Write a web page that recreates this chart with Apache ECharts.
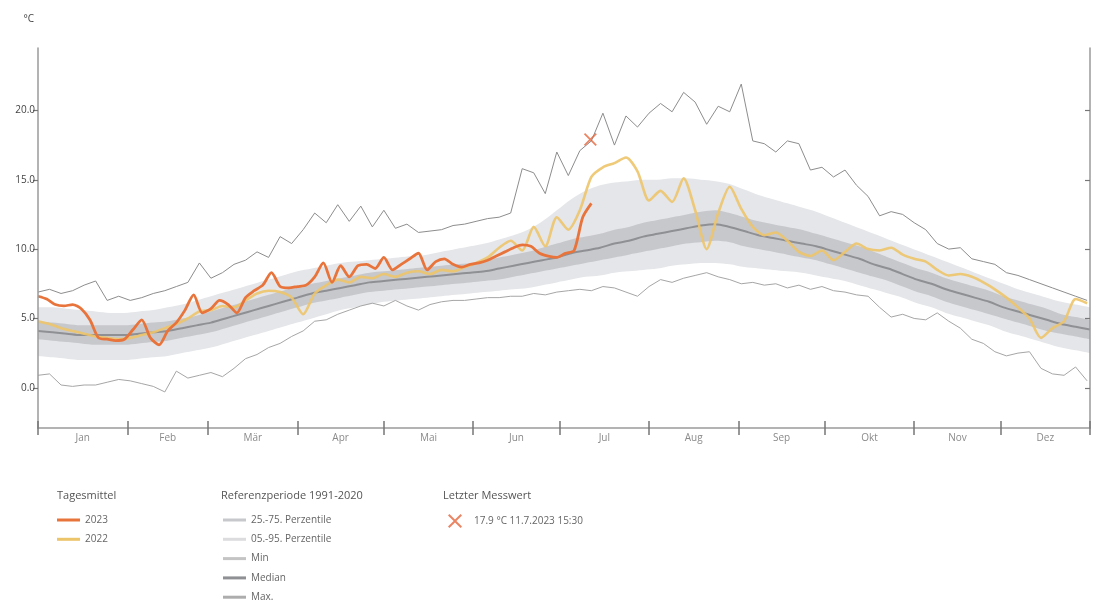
<!DOCTYPE html>
<html>
<head>
<meta charset="utf-8">
<script src="https://cdn.jsdelivr.net/npm/echarts@6/dist/echarts.min.js"></script>
<style>
  html, body { margin: 0; padding: 0; background: #ffffff; }
  #chart { width: 1093px; height: 603px; }
</style>
</head>
<body>
<div id="chart"></div>
<script>
// Month axis (day of year, 0 = 1 January)
const monthNames = ['Jan', 'Feb', 'Mär', 'Apr', 'Mai', 'Jun', 'Jul', 'Aug', 'Sep', 'Okt', 'Nov', 'Dez'];
const monthStarts = [0, 31, 59, 90, 120, 151, 181, 212, 243, 273, 304, 334, 365];
const yTicks = [0, 5, 10, 15, 20];

// Reference period 1991-2020, sampled every 5 days (day 0 ... 365)
const refP5 = [
  2.3, 2.2, 2.1, 2.0, 2.0, 2.0, 2.0, 2.1, 2.2, 2.3,
  2.5, 2.7, 2.9, 3.2, 3.5, 3.8, 4.1, 4.4, 4.7, 5.0,
  5.3, 5.6, 5.8, 6.0, 6.2, 6.3, 6.4, 6.5, 6.6, 6.7,
  6.8, 6.9, 7.0, 7.1, 7.2, 7.4, 7.6, 7.8, 8.0, 8.1,
  8.3, 8.4, 8.5, 8.6, 8.8, 8.9, 9.0, 9.0, 8.9, 8.7,
  8.6, 8.5, 8.4, 8.3, 8.1, 7.9, 7.7, 7.4, 7.1, 6.8,
  6.5, 6.1, 5.8, 5.4, 5.1, 4.8, 4.5, 4.1, 3.8, 3.5,
  3.2, 2.9, 2.7, 2.5
];
const refP25 = [
  3.5, 3.4, 3.3, 3.2, 3.1, 3.1, 3.1, 3.2, 3.3, 3.4,
  3.6, 3.8, 4.0, 4.3, 4.6, 4.9, 5.2, 5.5, 5.8, 6.1,
  6.3, 6.5, 6.7, 6.9, 7.0, 7.1, 7.2, 7.3, 7.4, 7.5,
  7.6, 7.7, 7.8, 8.0, 8.2, 8.4, 8.6, 8.8, 9.0, 9.2,
  9.4, 9.6, 9.8, 10.0, 10.2, 10.4, 10.5, 10.6, 10.5, 10.2,
  10.0, 9.8, 9.6, 9.4, 9.2, 8.9, 8.6, 8.3, 8.0, 7.7,
  7.3, 6.9, 6.6, 6.2, 5.9, 5.6, 5.3, 5.0, 4.7, 4.4,
  4.1, 3.9, 3.7, 3.5
];
const refMedian = [
  4.1, 4.0, 3.9, 3.8, 3.8, 3.8, 3.8, 3.9, 4.0, 4.1,
  4.3, 4.5, 4.7, 5.0, 5.3, 5.6, 5.9, 6.2, 6.5, 6.8,
  7.0, 7.2, 7.4, 7.6, 7.7, 7.8, 7.9, 8.0, 8.1, 8.2,
  8.3, 8.4, 8.6, 8.8, 9.0, 9.2, 9.4, 9.7, 9.9, 10.1,
  10.4, 10.6, 10.9, 11.1, 11.3, 11.5, 11.7, 11.8, 11.6, 11.3,
  11.0, 10.8, 10.6, 10.4, 10.2, 9.9, 9.6, 9.3, 8.9, 8.6,
  8.2, 7.8, 7.5, 7.1, 6.8, 6.5, 6.2, 5.8, 5.5, 5.2,
  4.9, 4.6, 4.4, 4.2
];
const refP75 = [
  4.8, 4.7, 4.6, 4.5, 4.5, 4.5, 4.5, 4.6, 4.7, 4.8,
  5.0, 5.2, 5.5, 5.8, 6.1, 6.4, 6.7, 7.0, 7.3, 7.5,
  7.7, 7.9, 8.1, 8.3, 8.4, 8.5, 8.6, 8.7, 8.8, 8.9,
  9.0, 9.2, 9.4, 9.6, 9.8, 10.1, 10.4, 10.7, 10.9, 11.1,
  11.4, 11.6, 11.9, 12.1, 12.3, 12.5, 12.7, 12.8, 12.6, 12.3,
  12.0, 11.8, 11.6, 11.4, 11.1, 10.8, 10.5, 10.2, 9.8, 9.4,
  9.0, 8.6, 8.3, 7.9, 7.6, 7.3, 7.0, 6.6, 6.3, 6.0,
  5.7, 5.3, 5.1, 4.9
];
const refP95 = [
  5.8, 5.8, 5.7, 5.6, 5.5, 5.4, 5.4, 5.5, 5.6, 5.8,
  6.0, 6.3, 6.6, 6.9, 7.2, 7.5, 7.8, 8.1, 8.4, 8.6,
  8.8, 9.0, 9.1, 9.2, 9.3, 9.4, 9.5, 9.6, 9.8, 10.0,
  10.2, 10.4, 10.7, 11.0, 11.4, 12.0, 12.8, 13.6, 14.2, 14.6,
  14.8, 14.9, 15.0, 15.0, 15.1, 15.1, 15.0, 14.9, 14.7, 14.3,
  13.9, 13.6, 13.3, 13.0, 12.7, 12.3, 11.9, 11.5, 11.1, 10.7,
  10.3, 9.9, 9.5, 9.1, 8.7, 8.3, 7.9, 7.5, 7.1, 6.8,
  6.5, 6.2, 6.0, 5.8
];

// Daily extremes of the reference period and year 2022, every 4 days (day 0 ... 364)
const refMax = [
  6.9, 7.1, 6.8, 7.0, 7.4, 7.7, 6.3, 6.6, 6.3, 6.5,
  6.8, 7.0, 7.3, 7.6, 9.0, 7.9, 8.3, 8.9, 9.2, 9.8,
  9.4, 10.9, 10.4, 11.4, 12.6, 11.9, 13.2, 12.0, 13.1, 11.6,
  12.8, 11.5, 11.8, 11.2, 11.3, 11.4, 11.7, 11.8, 12.0, 12.2,
  12.3, 12.6, 15.8, 15.5, 14.0, 17.0, 15.3, 17.1, 17.8, 19.8,
  17.5, 19.6, 18.8, 19.8, 20.5, 19.9, 21.3, 20.6, 19.0, 20.3,
  19.9, 21.9, 17.8, 17.6, 17.0, 17.8, 17.6, 15.7, 15.9, 15.2,
  15.7, 14.6, 13.8, 12.4, 12.7, 12.5, 11.9, 11.4, 10.4, 10.0,
  10.1, 9.3, 9.1, 8.9, 8.3, 8.1, 7.8, 7.5, 7.2, 6.9,
  6.6, 6.3
];
const refMin = [
  0.9, 1.0, 0.2, 0.1, 0.2, 0.2, 0.4, 0.6, 0.5, 0.3,
  0.1, -0.3, 1.2, 0.7, 0.9, 1.1, 0.8, 1.4, 2.1, 2.4,
  2.9, 3.2, 3.7, 4.1, 4.8, 4.9, 5.3, 5.6, 5.9, 6.1,
  5.9, 6.3, 5.9, 5.6, 6.0, 6.2, 6.3, 6.3, 6.4, 6.5,
  6.5, 6.6, 6.6, 6.8, 6.7, 6.9, 7.0, 7.1, 7.0, 7.3,
  7.2, 6.9, 6.6, 7.3, 7.8, 7.6, 7.9, 8.1, 8.3, 8.0,
  7.8, 7.5, 7.6, 7.4, 7.5, 7.2, 7.4, 7.1, 7.3, 7.0,
  6.9, 6.7, 6.6, 5.8, 5.1, 5.3, 5.0, 4.9, 5.4, 4.8,
  4.3, 3.5, 3.2, 2.6, 2.3, 2.5, 2.6, 1.4, 1.0, 0.9,
  1.5, 0.5
];
const mean2022 = [
  4.8, 4.6, 4.3, 4.1, 3.9, 3.7, 3.6, 3.5, 3.6, 3.8,
  4.0, 4.3, 4.6, 5.0, 5.5, 5.6, 5.9, 5.8, 6.3, 6.8,
  7.0, 6.9, 6.5, 5.3, 6.8, 7.4, 7.8, 7.6, 8.0, 7.9,
  8.2, 8.0, 8.3, 8.4, 8.2, 8.5, 8.4, 8.7, 9.0, 9.4,
  10.1, 10.6, 9.9, 11.6, 10.2, 12.3, 11.4, 12.8, 15.2, 15.9,
  16.2, 16.6, 15.6, 13.5, 14.2, 13.4, 15.1, 12.8, 10.0, 12.6,
  14.5, 12.9, 11.6, 11.0, 11.2, 10.6, 9.8, 9.5, 9.9, 9.2,
  9.8, 10.4, 10.0, 9.9, 10.1, 9.6, 9.3, 9.1, 8.5, 8.1,
  8.2, 8.0, 7.6, 7.1, 6.5, 5.8, 5.0, 3.6, 4.3, 4.8,
  6.4, 6.1
];

// Year 2023, every 3 days (day 0 ... 192)
const mean2023 = [
  6.6, 6.4, 6.0, 5.9, 6.0, 5.7, 4.9, 3.6, 3.5, 3.4,
  3.5, 4.2, 4.9, 3.6, 3.1, 4.1, 4.7, 5.6, 6.7, 5.4,
  5.7, 6.3, 6.0, 5.4, 6.5, 7.0, 7.4, 8.3, 7.3, 7.2,
  7.3, 7.4, 8.0, 9.0, 7.6, 8.8, 8.0, 8.8, 8.9, 8.6,
  9.4, 8.5, 8.9, 9.3, 9.7, 8.5, 9.1, 9.3, 8.9, 8.7,
  8.9, 9.0, 9.2, 9.5, 9.8, 10.1, 10.3, 10.2, 9.7, 9.5,
  9.4, 9.7, 9.9, 12.3, 13.3
];

// Last measured value: 11.7.2023 15:30
const lastValue = 17.9;
const lastDay = 191 + 15.5 / 24;
const lastLabel = lastValue.toFixed(1) + ' °C 11.7.2023 15:30';

function sampleDays(start, step, count) {
  const d = [];
  for (let i = 0; i < count; i++) d.push(start + i * step);
  return d;
}
const bandDays = sampleDays(0, 5, refMedian.length);
const lineDays = sampleDays(0, 4, refMax.length);
const days2023 = sampleDays(0, 3, mean2023.length);
const pairs = (days, vals) => vals.map((v, i) => [days[i], v]);

const monthMids = monthNames.map((_, i) => (monthStarts[i] + monthStarts[i + 1]) / 2);
function monthOf(v) {
  for (let i = 0; i < 12; i++) if (v >= monthStarts[i] && v < monthStarts[i + 1]) return monthNames[i];
  return '';
}

const FONT = 'Open Sans, Noto Sans, sans-serif';
const C = {
  outer: '#e5e6e9',
  inner: '#c7c8cc',
  median: '#8f9094',
  max: '#8d8d8d',
  min: '#a6a6a6',
  y2023: '#e8743b',
  y2022: '#ecc46a',
  mark: '#e5673d',
  axis: '#9a9a9a'
};
const xPath = 'path://M2,0 L10,8 L18,0 L20,2 L12,10 L20,18 L18,20 L10,12 L2,20 L0,18 L8,10 L0,2 Z';

// Percentile bands: each boundary is filled down to the axis, painted from the
// outermost (95 %) to the innermost (5 %, white) so the layers leave the bands.
function bandLayer(name, values, fill, legendColor, z) {
  return {
    name: name, type: 'line', data: pairs(bandDays, values),
    symbol: 'none', smooth: 0.3, silent: true, z: z,
    lineStyle: { width: 0, color: legendColor },
    itemStyle: { color: legendColor },
    areaStyle: { color: fill, opacity: 1, origin: 'start' }
  };
}

const legendText = { color: '#666', fontSize: 10, fontFamily: FONT };

const chart = echarts.init(document.getElementById('chart'), null, { renderer: 'canvas' });
chart.setOption({
  animation: false,
  backgroundColor: '#ffffff',
  textStyle: { fontFamily: FONT },
  grid: { left: 38, right: 3, top: 48, bottom: 175 },
  xAxis: [
    {
      type: 'value', min: 0, max: 365, position: 'bottom', z: 10,
      axisLine: { show: true, onZero: false, lineStyle: { color: C.axis, width: 1.5 } },
      axisTick: { show: true, customValues: monthStarts, length: 7, lineStyle: { color: '#777', width: 1.5 } },
      axisLabel: { customValues: monthMids, formatter: v => monthOf(v), color: '#8a8a8a', fontSize: 10, margin: 5, fontFamily: FONT },
      splitLine: { show: false }
    },
    {
      type: 'value', min: 0, max: 365, position: 'bottom', z: 10,
      axisLine: { show: false, onZero: false },
      axisTick: { show: true, inside: true, customValues: monthStarts, length: 7, lineStyle: { color: '#777', width: 1.5 } },
      axisLabel: { show: false },
      splitLine: { show: false }
    }
  ],
  yAxis: [
    {
      type: 'value', min: -2.9, max: 24.5, position: 'left', z: 10,
      name: '°C', nameLocation: 'end', nameGap: 24,
      nameTextStyle: { color: '#444', fontSize: 10, align: 'right', padding: [0, 4, 0, 0], fontFamily: FONT },
      axisLine: { show: true, onZero: false, lineStyle: { color: C.axis, width: 1.5 } },
      axisTick: { show: true, customValues: yTicks, length: 5, lineStyle: { color: '#777', width: 1.2 } },
      axisLabel: { customValues: yTicks, formatter: v => v.toFixed(1), color: '#444', fontSize: 10, margin: 3, fontFamily: FONT },
      splitLine: { show: false }
    },
    {
      type: 'value', min: -2.9, max: 24.5, position: 'right', z: 10,
      axisLine: { show: true, onZero: false, lineStyle: { color: C.axis, width: 1.5 } },
      axisTick: { show: true, inside: true, customValues: yTicks, length: 5, lineStyle: { color: '#777', width: 1.2 } },
      axisLabel: { show: false },
      splitLine: { show: false }
    }
  ],
  legend: [
    {
      left: 57, top: 515, padding: 0, orient: 'vertical', itemWidth: 23, itemHeight: 3, itemGap: 9.3,
      selectedMode: false, textStyle: legendText,
      data: [{ name: '2023', icon: 'rect' }, { name: '2022', icon: 'rect' }]
    },
    {
      left: 223, top: 515, padding: 0, orient: 'vertical', itemWidth: 23, itemHeight: 3, itemGap: 9.3,
      selectedMode: false, textStyle: legendText,
      data: [
        { name: '25.-75. Perzentile', icon: 'rect' },
        { name: '05.-95. Perzentile', icon: 'rect' },
        { name: 'Min', icon: 'rect' },
        { name: 'Median', icon: 'rect' },
        { name: 'Max.', icon: 'rect' }
      ]
    },
    {
      left: 448, top: 514, padding: 0, orient: 'vertical', itemWidth: 14, itemHeight: 14, itemGap: 5,
      selectedMode: false, textStyle: Object.assign({ padding: [0, 0, 0, 7] }, legendText),
      data: [{ name: lastLabel, icon: xPath }]
    }
  ],
  graphic: [
    { type: 'text', left: 57, top: 490, style: { text: 'Tagesmittel', fill: '#555', fontSize: 11, fontFamily: FONT } },
    { type: 'text', left: 221, top: 490, style: { text: 'Referenzperiode 1991-2020', fill: '#555', fontSize: 11, fontFamily: FONT } },
    { type: 'text', left: 443, top: 490, style: { text: 'Letzter Messwert', fill: '#555', fontSize: 11, fontFamily: FONT } }
  ],
  series: [
    bandLayer('05.-95. Perzentile', refP95, C.outer, '#dcdcdf', 1),
    bandLayer('25.-75. Perzentile', refP75, C.inner, C.inner, 1),
    bandLayer('p25', refP25, C.outer, C.outer, 1),
    bandLayer('p5', refP5, '#ffffff', '#ffffff', 1),
    {
      name: 'Median', type: 'line', data: pairs(bandDays, refMedian), symbol: 'none', smooth: 0.3, z: 3,
      lineStyle: { color: C.median, width: 2 }, itemStyle: { color: C.median }
    },
    {
      name: 'Min', type: 'line', data: pairs(lineDays, refMin), symbol: 'none', z: 3,
      lineStyle: { color: C.min, width: 1 }, itemStyle: { color: '#c4c4c4' }
    },
    {
      name: 'Max.', type: 'line', data: pairs(lineDays, refMax), symbol: 'none', z: 3,
      lineStyle: { color: C.max, width: 1 }, itemStyle: { color: '#adadad' }
    },
    {
      name: '2022', type: 'line', data: pairs(lineDays, mean2022), symbol: 'none', smooth: 0.25, z: 4,
      lineStyle: { color: C.y2022, width: 2.6, opacity: 0.9 }, itemStyle: { color: C.y2022 }
    },
    {
      name: '2023', type: 'line', data: pairs(days2023, mean2023), symbol: 'none', smooth: 0.25, z: 5,
      lineStyle: { color: C.y2023, width: 2.8 }, itemStyle: { color: C.y2023 }
    },
    {
      name: lastLabel, type: 'scatter', data: [[lastDay, lastValue]], symbol: xPath, symbolSize: 13, z: 6,
      itemStyle: { color: C.mark }
    }
  ]
});
</script>
</body>
</html>
